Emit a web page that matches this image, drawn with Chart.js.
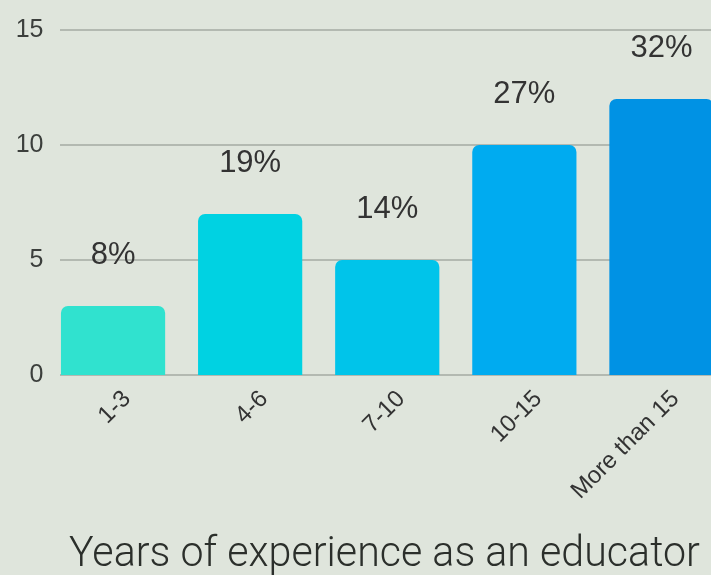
<!DOCTYPE html>
<html>
<head>
<meta charset="utf-8">
<script src="https://cdn.jsdelivr.net/npm/chart.js@4.4.0/dist/chart.umd.min.js"></script>
<style>
    body { margin: 0; background: #dfe5dc; overflow: hidden; }
    #wrap { position: relative; width: 711px; height: 575px; overflow: hidden; }
    #chartBox { position: absolute; left: 0; top: 0; width: 745px; height: 575px; }
    #chartTitle {
        position: absolute; left: 69px; top: 526px;
        font-family: Roboto, sans-serif; font-weight: 300; font-size: 43px;
        color: #2b2f2b; white-space: nowrap; transform-origin: left top;
    }
</style>
</head>
<body>
<div id="wrap">
    <div id="chartBox"><canvas id="expChart" width="745" height="575"></canvas></div>
    <div id="chartTitle">Years of experience as an educator</div>
</div>
<script>
/* ===== Data ===== */
const categories = ['1-3', '4-6', '7-10', '10-15', 'More than 15'];
const counts = [3, 7, 5, 10, 12];
const percentLabels = ['8%', '19%', '14%', '27%', '32%'];
const barColors = ['#30e2cf', '#00d2e2', '#00c4ea', '#00abf0', '#0092e4'];
const yTicks = [0, 5, 10, 15];

/* Grid lines start a bit right of the plot edge, like the original */
const gridPlugin = {
    id: 'gridLines',
    beforeDatasetsDraw(chart) {
        const { ctx, scales: { y } } = chart;
        ctx.save();
        ctx.strokeStyle = '#b3b9b1';
        ctx.lineWidth = 2;
        yTicks.forEach(v => {
            const py = Math.round(y.getPixelForValue(v));
            ctx.beginPath();
            ctx.moveTo(60, py);
            ctx.lineTo(chart.width, py);
            ctx.stroke();
        });
        ctx.restore();
    }
};

/* Percent labels above each bar */
const percentPlugin = {
    id: 'percentLabels',
    afterDatasetsDraw(chart) {
        const { ctx } = chart;
        const meta = chart.getDatasetMeta(0);
        ctx.save();
        ctx.font = '31px "Liberation Sans", Arial, sans-serif';
        ctx.fillStyle = '#333';
        ctx.textAlign = 'center';
        ctx.textBaseline = 'middle';
        meta.data.forEach((bar, i) => {
            ctx.fillText(percentLabels[i], bar.x, bar.y - 51);
        });
        ctx.restore();
    }
};

new Chart(document.getElementById('expChart'), {
    type: 'bar',
    data: {
        labels: categories,
        datasets: [{
            data: counts,
            backgroundColor: barColors,
            borderRadius: { topLeft: 7, topRight: 7 },
            borderSkipped: 'bottom',
            barPercentage: 0.76,
            categoryPercentage: 1
        }]
    },
    options: {
        responsive: false,
        animation: false,
        layout: { padding: { top: 30, right: 15, left: 0, bottom: 0 } },
        plugins: {
            legend: { display: false },
            tooltip: { enabled: false }
        },
        scales: {
            x: {
                grid: { display: false, drawTicks: false },
                border: { display: false },
                ticks: {
                    minRotation: 45,
                    maxRotation: 45,
                    padding: 10,
                    labelOffset: 14,
                    font: { family: '"Liberation Sans", Arial, sans-serif', size: 24 },
                    color: '#333'
                },
                afterFit: (scale) => { scale.height = 200; }
            },
            y: {
                min: 0,
                max: 15,
                afterBuildTicks: (scale) => { scale.ticks = yTicks.map(v => ({ value: v })); },
                grid: { display: false, drawTicks: false },
                border: { display: false },
                ticks: {
                    padding: 1,
                    font: { family: '"Liberation Sans", Arial, sans-serif', size: 25 },
                    color: '#3c3f3c'
                },
                afterFit: (scale) => { scale.width = 44.5; }
            }
        }
    },
    plugins: [gridPlugin, percentPlugin]
});

/* squeeze the title to the condensed look of the original */
const title = document.getElementById('chartTitle');
title.style.transform = 'scaleX(' + (631 / title.offsetWidth) + ')';
</script>
</body>
</html>
